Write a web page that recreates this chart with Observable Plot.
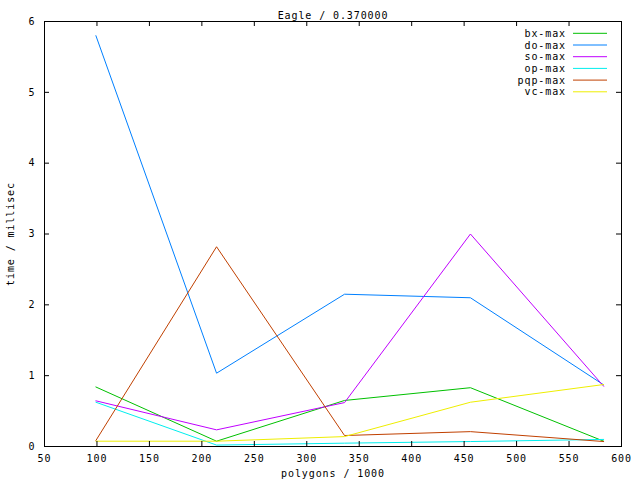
<!DOCTYPE html>
<html>
<head>
<meta charset="utf-8">
<script src="https://cdn.jsdelivr.net/npm/d3@7"></script>
<script src="https://cdn.jsdelivr.net/npm/@observablehq/plot@0.6"></script>
<style>
  html, body { margin: 0; padding: 0; background: white; }
</style>
</head>
<body>
<div id="chart"></div>
<script>
const title = "Eagle / 0.370000";
const xLabel = "polygons / 1000";
const yLabel = "time / millisec";
const polygons = [99, 214, 336, 456, 583];
const seriesNames = ["bx-max", "do-max", "so-max", "op-max", "pqp-max", "vc-max"];
const seriesColors = ["#00c000", "#0080ff", "#c000ff", "#00eeee", "#c04000", "#eeee00"];
const bxMax  = [0.84, 0.075, 0.65, 0.83, 0.075];
const doMax  = [5.8, 1.035, 2.15, 2.1, 0.87];
const soMax  = [0.645, 0.235, 0.62, 3.0, 0.85];
const opMax  = [0.625, 0.02, 0.047, 0.07, 0.1];
const pqpMax = [0.085, 2.82, 0.155, 0.21, 0.07];
const vcMax  = [0.075, 0.075, 0.14, 0.625, 0.875];
const xTicks = [50, 100, 150, 200, 250, 300, 350, 400, 450, 500, 550, 600];
const yTicks = [0, 1, 2, 3, 4, 5, 6];

const seriesValues = [bxMax, doMax, soMax, opMax, pqpMax, vcMax];
const rows = [];
seriesNames.forEach((name, i) => {
  seriesValues[i].forEach((v, j) => rows.push({series: name, x: polygons[j], y: v}));
});

const W = 640, H = 480, mL = 44, mR = 19, mT = 21, mB = 34;
const frameW = W - mL - mR, frameH = H - mT - mB, tickLen = 5;
const font = "'DejaVu Sans Mono', monospace";

const plot = Plot.plot({
  width: W, height: H,
  marginLeft: mL, marginRight: mR, marginTop: mT, marginBottom: mB,
  style: {fontFamily: font, fontSize: "10px", letterSpacing: "0.9px", background: "white", color: "black"},
  x: {domain: [50, 600]},
  y: {domain: [0, 6]},
  color: {domain: seriesNames, range: seriesColors},
  marks: [
    Plot.line(rows, {x: "x", y: "y", z: "series", stroke: "series", strokeWidth: 1}),
    Plot.frame({stroke: "black"}),
    Plot.tickX(xTicks, {x: d => d, insetTop: frameH - tickLen, stroke: "black"}),
    Plot.tickX(xTicks, {x: d => d, insetBottom: frameH - tickLen, stroke: "black"}),
    Plot.tickY(yTicks, {y: d => d, insetRight: frameW - tickLen, stroke: "black"}),
    Plot.tickY(yTicks, {y: d => d, insetLeft: frameW - tickLen, stroke: "black"}),
    Plot.axisX(xTicks, {tickSize: 0, tickPadding: 8, label: null, tickFormat: d => String(d)}),
    Plot.axisY(yTicks, {tickSize: 0, tickPadding: 9, label: null, tickFormat: d => String(d)}),
    Plot.text([title], {frameAnchor: "top", lineAnchor: "middle", dy: -5.5, text: d => d, fill: "black"}),
    Plot.text([xLabel], {frameAnchor: "bottom", lineAnchor: "middle", dy: 27, text: d => d, fill: "black"}),
    Plot.text([yLabel], {frameAnchor: "left", textAnchor: "middle", lineAnchor: "middle", dx: -34, rotate: -90, text: d => d, fill: "black"})
  ]
});

// legend (top-right, inside the frame)
const svg = d3.select(plot);
const lg = svg.append("g").attr("font-family", font).attr("font-size", "10px").attr("letter-spacing", "0.9px");
seriesNames.forEach((name, i) => {
  const cy = 33.3 + i * 11.7;
  lg.append("text").attr("x", 566).attr("y", cy).attr("text-anchor", "end")
    .attr("dy", "0.35em").attr("fill", "black").text(name);
  lg.append("line").attr("x1", 573).attr("x2", 607).attr("y1", cy).attr("y2", cy)
    .attr("stroke", seriesColors[i]).attr("stroke-width", 1);
});

document.getElementById("chart").appendChild(plot);
</script>
</body>
</html>
